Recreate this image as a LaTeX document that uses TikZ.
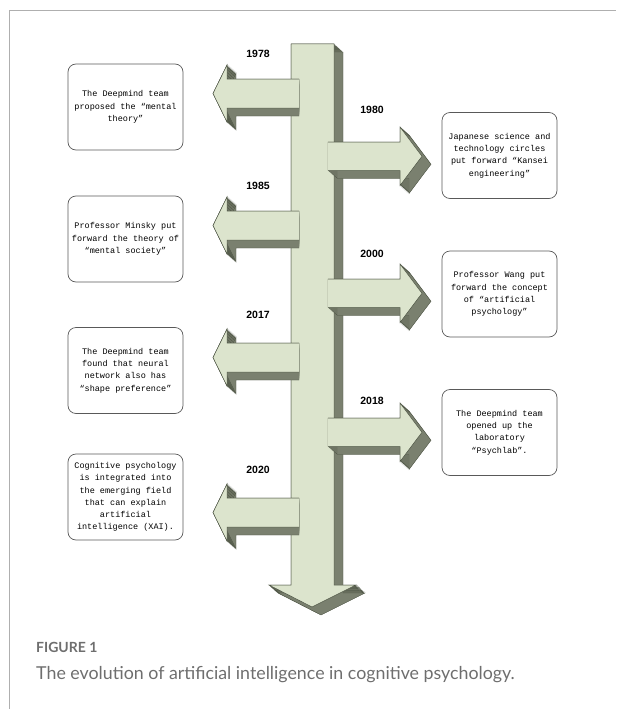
\documentclass[tikz,border=0pt]{standalone}
\usepackage{fontspec}
\setmonofont{Liberation Mono}
\newfontfamily\yearfont{Liberation Sans}
\newfontfamily\capfont{Lato}
\definecolor{facegreen}{HTML}{DCE4CD}
\definecolor{sidegreen}{HTML}{7A806F}
\definecolor{edgegreen}{HTML}{4D5444}
\definecolor{framegray}{HTML}{AFAFAF}
\definecolor{capgray}{HTML}{6E6E6E}
\tikzset{
  face/.style={fill=facegreen, draw=edgegreen, line width=0.5pt},
  side/.style={fill=sidegreen, draw=edgegreen, line width=0.4pt},
  eventbox/.style={draw=black!65, line width=0.7pt, rounded corners=8pt,
    minimum width=115pt, minimum height=86pt, align=center, inner sep=2pt,
    font=\ttfamily\fontsize{8.5}{12.2}\selectfont},
  yearlabel/.style={font=\yearfont\bfseries\fontsize{10.5}{12}\selectfont},
}

\begin{document}
\begin{tikzpicture}[x=1pt,y=-1pt]
            \useasboundingbox (0,0) rectangle (616,709);
            \draw[framegray, line width=1pt] (9.5,709) -- (9.5,10.5) -- (616,10.5);
            % main shaft
            \foreach \k in {0,...,9}
                \path[side, shift={(\k,0.89*\k)}] (291,44) -- (334,44) -- (334,585) -- (356,585) -- (312,607) -- (269,585) -- (291,585) -- cycle;
            \draw[face] (291,44) -- (334,44) -- (334,585) -- (356,585) -- (312,607) -- (269,585) -- (291,585) -- cycle;
            % arrows to the left
            \foreach \t/\ly/\yr in {79/54/1978, 211/186/1985, 343/315/2017, 498/470/2020} {
                \pgfmathsetmacro\b{\t+29}
                \pgfmathsetmacro\c{\t+14.5}
                \begin{scope}
                    \clip (0,0) rectangle (299,709);
                    \foreach \k in {0,...,9}
                        \path[side, shift={(\k,0.89*\k)}] (299,\t) -- (227,\t) -- (227,\t-14) -- (213,\c) -- (227,\b+14) -- (227,\b) -- (299,\b) -- cycle;
                \end{scope}
                \path[face] (299,\t) -- (227,\t) -- (227,\t-14) -- (213,\c) -- (227,\b+14) -- (227,\b) -- (299,\b);
                \node[yearlabel] (y\yr) at (258,\ly) {\yr};
            }
            % arrows to the right
            \foreach \t/\ly/\yr in {142/110/1980, 279/254/2000, 418/401/2018} {
                \pgfmathsetmacro\b{\t+28.5}
                \pgfmathsetmacro\c{\t+14.25}
                \foreach \k in {0,...,9}
                    \path[side, shift={(\k,0.89*\k)}] (328,\t) -- (400,\t) -- (400,\t-15) -- (422,\c) -- (400,\b+15) -- (400,\b) -- (328,\b) -- cycle;
                \path[face] (328,\t) -- (400,\t) -- (400,\t-15) -- (422,\c) -- (400,\b+15) -- (400,\b) -- (328,\b);
                \node[yearlabel] (y\yr) at (372,\ly) {\yr};
            }
            % events
            \node[eventbox] (mental) at (125.5,107) {The Deepmind team\\proposed the “mental\\theory”};
            \node[eventbox] (kansei) at (499.5,155.5) {Japanese science and\\technology circles\\put forward “Kansei\\engineering”};
            \node[eventbox] (minsky) at (125.5,239) {Professor Minsky put\\forward the theory of\\“mental society”};
            \node[eventbox] (wang) at (499.5,294) {Professor Wang put\\forward the concept\\of “artificial\\psychology”};
            \node[eventbox] (shape) at (125.5,370.5) {The Deepmind team\\found that neural\\network also has\\“shape preference”};
            \node[eventbox] (psychlab) at (499.5,432.5) {The Deepmind team\\opened up the\\laboratory\\“Psychlab”.};
            \node[eventbox] (xai) at (125.5,497) {Cognitive psychology\\is integrated into\\the emerging field\\that can explain\\artificial\\intelligence (XAI).};
            % caption
            \node[anchor=base west, inner sep=0pt, text=capgray, font=\capfont\bfseries\fontsize{14}{16}\selectfont] (figlabel) at (36,652) {FIGURE 1};
            \node[anchor=base west, inner sep=0pt, text=capgray, font=\capfont\fontsize{17.8}{20}\selectfont] (figcaption) at (36,679) {The evolution of artificial intelligence in cognitive psychology.};
        \end{tikzpicture}
\end{document}
